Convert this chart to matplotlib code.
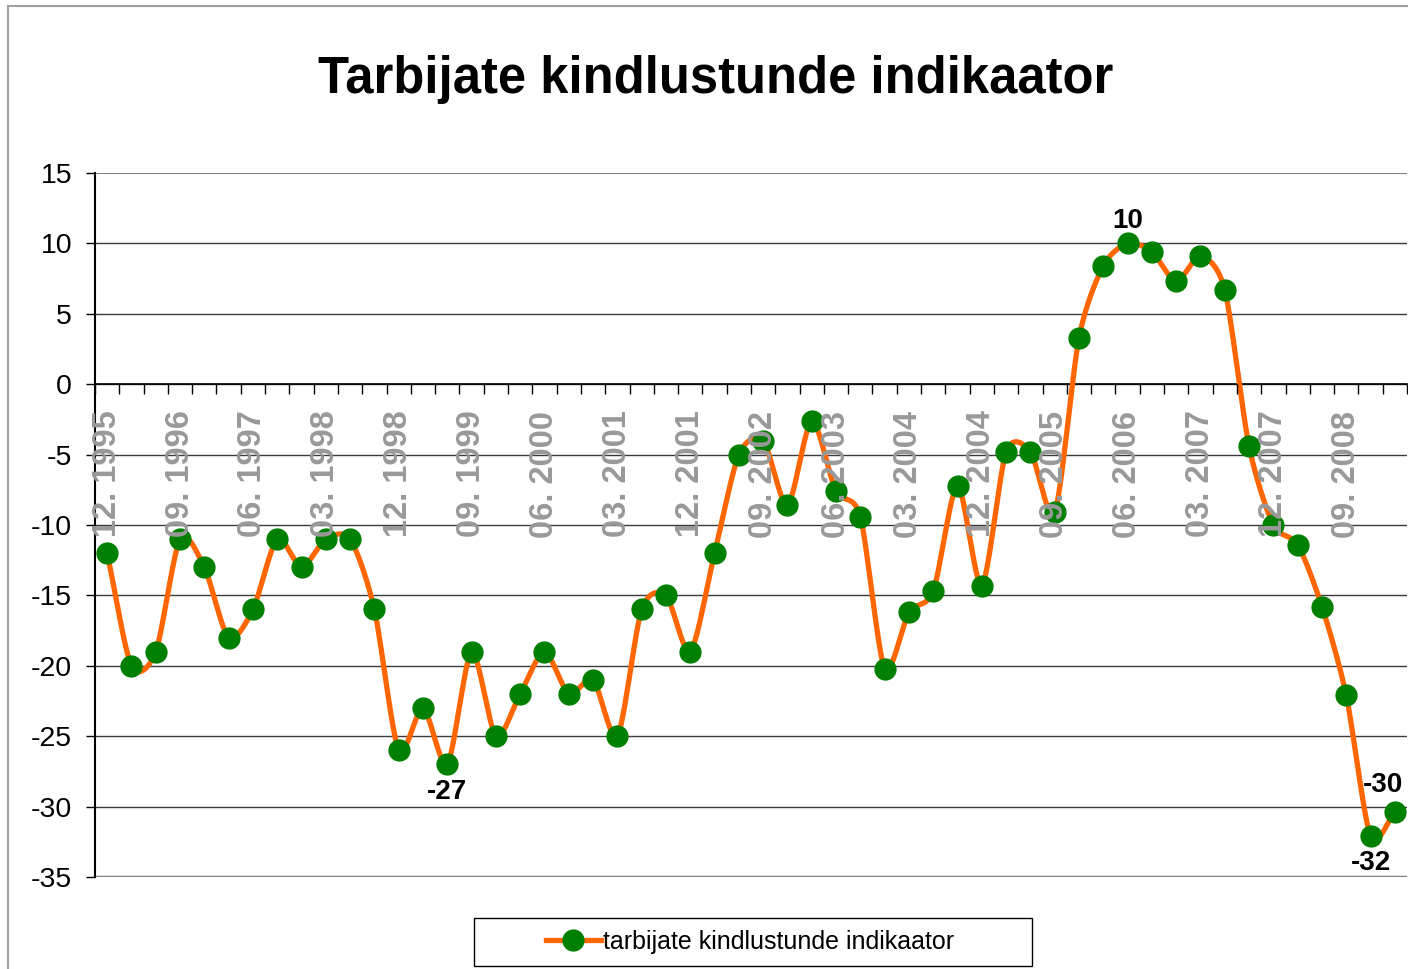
import numpy as np
import matplotlib.pyplot as plt
from matplotlib.patches import Rectangle
from matplotlib.lines import Line2D

plt.rcParams['font.family'] = ['Liberation Sans', 'DejaVu Sans']
plt.rcParams['axes.unicode_minus'] = False

# quarterly values, 12.1995 .. 03.2009
months = ["03", "06", "09", "12"]
quarters = []
for year in range(1995, 2010):
    for m in months:
        quarters.append(f"{m}. {year}")
quarters = quarters[3:3 + 54]

values = [-12, -20, -19, -11, -13, -18, -16, -11, -13, -11,
          -11, -16, -26, -23, -27, -19, -25, -22, -19, -22,
          -21, -25, -16, -15, -19, -12, -5, -4, -8.6, -2.6,
          -7.6, -9.4, -20.2, -16.2, -14.7, -7.2, -14.3, -4.8, -4.8, -9.1,
          3.3, 8.4, 10, 9.4, 7.3, 9.1, 6.7, -4.4, -10.0, -11.4,
          -15.8, -22.1, -32.1, -30.4]

# labelled points: index, text, offset in px
labelled = [(14, "-27", -28), (42, "10", 22), (52, "-32", -27), (53, "-30", 27)]

series_name = "tarbijate kindlustunde indikaator"


def smooth(xs, ys, n=12):
    # Catmull-Rom spline through the points, like Excel's smoothed line
    xs = np.asarray(xs, float)
    ys = np.asarray(ys, float)
    px = np.concatenate([[2 * xs[0] - xs[1]], xs, [2 * xs[-1] - xs[-2]]])
    py = np.concatenate([[2 * ys[0] - ys[1]], ys, [2 * ys[-1] - ys[-2]]])
    t = np.linspace(0, 1, n, endpoint=False)
    outx, outy = [], []
    for i in range(1, len(px) - 2):
        for p, out in ((px, outx), (py, outy)):
            p0, p1, p2, p3 = p[i - 1], p[i], p[i + 1], p[i + 2]
            # tension 0.5 softened a bit
            m1 = 0.4 * (p2 - p0)
            m2 = 0.4 * (p3 - p1)
            out.extend((2 * t ** 3 - 3 * t ** 2 + 1) * p1
                       + (t ** 3 - 2 * t ** 2 + t) * m1
                       + (-2 * t ** 3 + 3 * t ** 2) * p2
                       + (t ** 3 - t ** 2) * m2)
    outx.append(xs[-1])
    outy.append(ys[-1])
    return np.array(outx), np.array(outy)


fig = plt.figure(figsize=(14.08, 9.69), dpi=100)
ax = fig.add_axes([95 / 1408, 1 - 877 / 969, 1312 / 1408, 704 / 969])

ax.spines["bottom"].set_position(("data", 0))
ax.spines["bottom"].set_zorder(2)
ax.spines["bottom"].set_linewidth(1.2)
ax.spines["left"].set_linewidth(1.5)
ax.spines["top"].set_visible(False)
ax.spines["right"].set_visible(False)

x = np.arange(len(values))
sx, sy = smooth(x, values)

for yv in range(-30, 15, 5):
    ax.axhline(yv, color="#3a3a3a", lw=1.0, zorder=1)
ax.axhline(15, color="#808080", lw=1.5, zorder=1)
ax.axhline(-35, color="#808080", lw=2.5, zorder=1)

ax.plot(sx, sy, color="#ff6600", lw=3.8, zorder=3, solid_capstyle="round")
ax.plot(x, values, ls="none", marker="o", ms=15, color="#008000", zorder=4)

for i, txt, off in labelled:
    dx = -12 if i == len(values) - 1 else 0
    ax.annotate(txt, (x[i], values[i]), xytext=(dx, off), textcoords="offset pixels",
                ha="center", va="center", fontsize=20, fontweight="bold", zorder=6)

ax.set_xlim(-0.5, len(values) - 0.5)
ax.set_ylim(-35, 15)
ax.set_yticks(range(-35, 20, 5))
ax.tick_params(axis="y", direction="out", length=6.5, width=1, pad=10,
               labelsize=20.5, colors="black")

ax.set_xticks(x[::3])
ax.set_xticks(np.arange(-0.5, len(values), 1), minor=True)
ax.set_xticklabels(quarters[::3], rotation=90, color="#999999", fontsize=23.5,
                   fontweight="bold", va="top")
ax.tick_params(axis="x", which="major", length=0, pad=19)
ax.tick_params(axis="x", which="minor", direction="out", length=7.5, width=1)
ax.xaxis.set_zorder(5)

fig.text(716 / 1408, 1 - 79 / 969, "Tarbijate kindlustunde indikaator",
         ha="center", va="center", fontsize=36.5, fontweight="bold")

# chart border (cut off at right and bottom)
fig.patches.append(Rectangle((8 / 1408, -0.1), 1.2, 1 - 6 / 969 + 0.1,
                             transform=fig.transFigure, fill=False,
                             edgecolor="#a0a0a0", lw=1.5))
# legend box
fig.patches.append(Rectangle((474 / 1408, 1 - 966 / 969), 558 / 1408, 48 / 969,
                             transform=fig.transFigure, fill=False,
                             edgecolor="black", lw=1))
handle = Line2D([], [], color="#ff6600", lw=3.8, marker="o", ms=15,
                markerfacecolor="#008000", markeredgecolor="#008000")
fig.legend([handle], [series_name], loc="center",
           bbox_to_anchor=(750 / 1408, 1 - 942 / 969), frameon=False,
           fontsize=18, handlelength=2.2, handletextpad=0.1)

fig.savefig("out.png", dpi=100)
